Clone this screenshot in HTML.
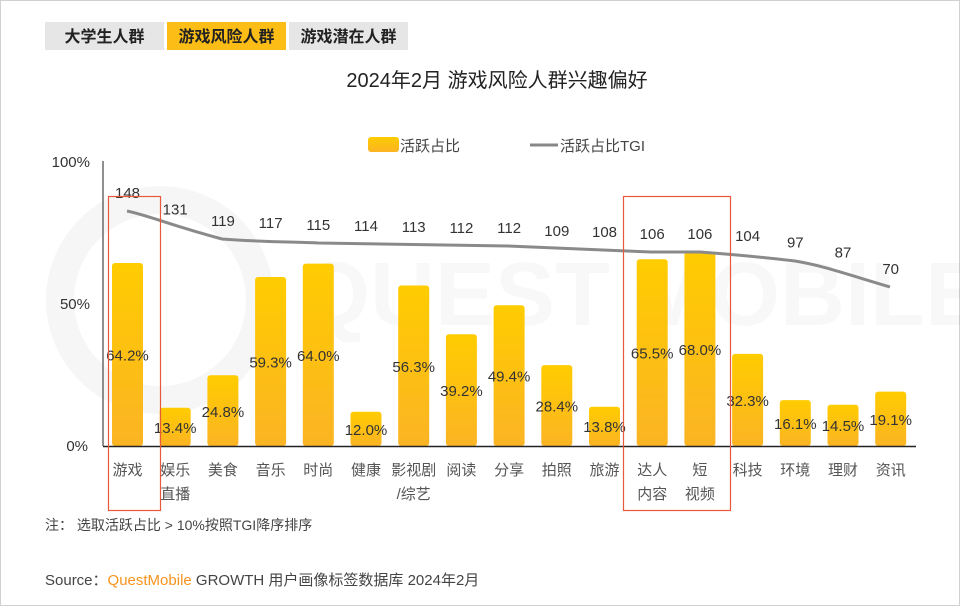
<!DOCTYPE html>
<html><head><meta charset="utf-8"><style>
body{margin:0;background:#fff}
svg{display:block;font-family:"Liberation Sans","Noto Sans CJK SC",sans-serif}
</style></head><body>
<svg width="960" height="606" viewBox="0 0 960 606">
<defs><linearGradient id="g" x1="0" y1="0" x2="0" y2="1"><stop offset="0" stop-color="#ffcc00"/><stop offset="1" stop-color="#fbb424"/></linearGradient></defs>
<rect x="0.5" y="0.5" width="959" height="605" fill="#fff" stroke="#d0d0d0"/>
<rect x="45" y="22" width="119" height="28" fill="#e6e6e6"/>
<rect x="167" y="22" width="119" height="28" fill="#fcbd17"/>
<rect x="289" y="22" width="119" height="28" fill="#e6e6e6"/>
<g font-size="16" font-weight="bold" fill="#222" text-anchor="middle">
<text x="104.5" y="42">大学生人群</text><text x="226.5" y="42">游戏风险人群</text><text x="348.5" y="42">游戏潜在人群</text></g>
<text x="497" y="87" font-size="20" text-anchor="middle" fill="#222">2024年2月 游戏风险人群兴趣偏好</text>
<g opacity="0.035" fill="none" stroke="#000" stroke-width="28"><circle cx="160" cy="300" r="100"/></g>
<text x="300" y="325" font-size="90" font-weight="bold" fill="#000" opacity="0.025">QUEST MOBILE</text>
<rect x="368" y="137" width="31" height="15" rx="3" fill="url(#g)"/>
<text x="400" y="151" font-size="15" fill="#444">活跃占比</text>
<line x1="530" y1="145" x2="558" y2="145" stroke="#888" stroke-width="3"/>
<text x="560" y="151" font-size="15" fill="#444">活跃占比TGI</text>
<g font-size="15" fill="#333" text-anchor="end"><text x="90" y="167">100%</text><text x="90" y="309">50%</text><text x="88" y="451">0%</text></g>
<line x1="103" y1="161" x2="103" y2="446" stroke="#222"/>
<g fill="url(#g)">
<rect x="112" y="263" width="31" height="183" rx="3"/>
<rect x="159.7" y="407.8" width="31" height="38.2" rx="3"/>
<rect x="207.4" y="375.3" width="31" height="70.7" rx="3"/>
<rect x="255.1" y="277" width="31" height="169" rx="3"/>
<rect x="302.8" y="263.6" width="31" height="182.4" rx="3"/>
<rect x="350.5" y="411.8" width="31" height="34.2" rx="3"/>
<rect x="398.2" y="285.5" width="31" height="160.5" rx="3"/>
<rect x="445.9" y="334.3" width="31" height="111.7" rx="3"/>
<rect x="493.6" y="305.2" width="31" height="140.8" rx="3"/>
<rect x="541.3" y="365.1" width="31" height="80.9" rx="3"/>
<rect x="589" y="406.7" width="31" height="39.3" rx="3"/>
<rect x="636.7" y="259.3" width="31" height="186.7" rx="3"/>
<rect x="684.4" y="252.2" width="31" height="193.8" rx="3"/>
<rect x="732.1" y="353.9" width="31" height="92.1" rx="3"/>
<rect x="779.8" y="400.1" width="31" height="45.9" rx="3"/>
<rect x="827.5" y="404.7" width="31" height="41.3" rx="3"/>
<rect x="875.2" y="391.6" width="31" height="54.4" rx="3"/>
</g>
<line x1="103" y1="446.5" x2="916" y2="446.5" stroke="#222" stroke-width="1.5"/>
<g font-size="15" fill="#333" text-anchor="middle">
<text x="127.5" y="360.5">64.2%</text>
<text x="175.2" y="433">13.4%</text>
<text x="222.9" y="417">24.8%</text>
<text x="270.6" y="367.5">59.3%</text>
<text x="318.3" y="361">64.0%</text>
<text x="366" y="435">12.0%</text>
<text x="413.7" y="372">56.3%</text>
<text x="461.4" y="396">39.2%</text>
<text x="509.1" y="381.6">49.4%</text>
<text x="556.8" y="411.5">28.4%</text>
<text x="604.5" y="432">13.8%</text>
<text x="652.2" y="358.7">65.5%</text>
<text x="699.9" y="355">68.0%</text>
<text x="747.6" y="406">32.3%</text>
<text x="795.3" y="429">16.1%</text>
<text x="843" y="431">14.5%</text>
<text x="890.7" y="425">19.1%</text>
</g>
<path d="M127 211 C150 216 170 225 222 239 C260 242 300 242 318 243 L508 246 L651 252 L700 252 C740 255 770 258 795 261 C820 265 840 272 890 287" fill="none" stroke="#8a8a8a" stroke-width="3"/>
<g font-size="15" fill="#333" text-anchor="middle">
<text x="127.5" y="198">148</text>
<text x="175.2" y="214.6">131</text>
<text x="222.9" y="226.2">119</text>
<text x="270.6" y="228.2">117</text>
<text x="318.3" y="230.1">115</text>
<text x="366" y="231.1">114</text>
<text x="413.7" y="232.1">113</text>
<text x="461.4" y="233.1">112</text>
<text x="509.1" y="233.1">112</text>
<text x="556.8" y="236">109</text>
<text x="604.5" y="237">108</text>
<text x="652.2" y="239">106</text>
<text x="699.9" y="239">106</text>
<text x="747.6" y="240.9">104</text>
<text x="795.3" y="247.7">97</text>
<text x="843" y="257.4">87</text>
<text x="890.7" y="274">70</text>
</g>
<g font-size="15" fill="#555" text-anchor="middle">
<text x="127.5" y="475">游戏</text>
<text x="175.2" y="475">娱乐</text><text x="175.2" y="499">直播</text>
<text x="222.9" y="475">美食</text>
<text x="270.6" y="475">音乐</text>
<text x="318.3" y="475">时尚</text>
<text x="366" y="475">健康</text>
<text x="413.7" y="475">影视剧</text><text x="413.7" y="499">/综艺</text>
<text x="461.4" y="475">阅读</text>
<text x="509.1" y="475">分享</text>
<text x="556.8" y="475">拍照</text>
<text x="604.5" y="475">旅游</text>
<text x="652.2" y="475">达人</text><text x="652.2" y="499">内容</text>
<text x="699.9" y="475">短</text><text x="699.9" y="499">视频</text>
<text x="747.6" y="475">科技</text>
<text x="795.3" y="475">环境</text>
<text x="843" y="475">理财</text>
<text x="890.7" y="475">资讯</text>
</g>
<rect x="108.5" y="196.5" width="52" height="314" fill="none" stroke="#e8583a" stroke-width="1.2"/>
<rect x="623.5" y="196.5" width="107" height="314" fill="none" stroke="#e8583a" stroke-width="1.2"/>
<text x="45" y="530" font-size="14" fill="#444">注：  选取活跃占比 &gt; 10%按照TGI降序排序</text>
<text x="45" y="585" font-size="15" fill="#444">Source：<tspan fill="#f7931e">QuestMobile</tspan> GROWTH 用户画像标签数据库 2024年2月</text>
</svg>
</body></html>
